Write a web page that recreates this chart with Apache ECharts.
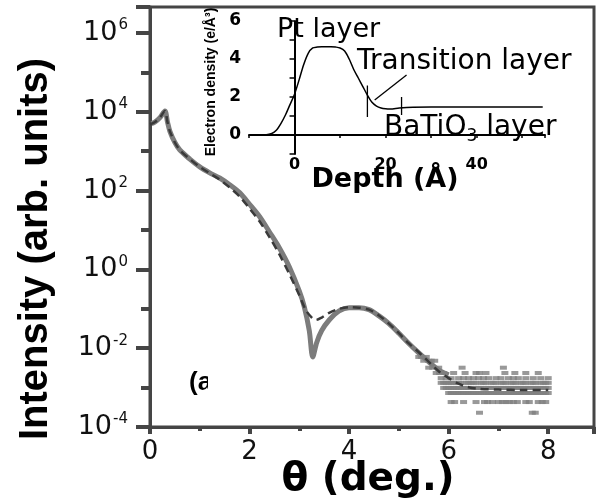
<!DOCTYPE html>
<html>
<head>
<meta charset="utf-8">
<script src="https://cdn.jsdelivr.net/npm/echarts@6/dist/echarts.min.js"></script>
<style>
html,body{margin:0;padding:0;background:#fff;}
#c{width:597px;height:504px;}
</style>
</head>
<body>
<div id="c"></div>
<script>
// ---- main plot: reflectivity ----
const theta = [0.03,0.1,0.2,0.3,0.35,0.4,0.5,0.6,0.8,1.0,1.2,1.4,1.6,1.8,2.0,2.2,2.4,2.6,2.8,3.0,3.1,3.2,3.27,3.35,3.45,3.6,3.8,4.0,4.2,4.4,4.6,4.8,5.0,5.2,5.4,5.6,5.8,6.0];
const measured = [5.0e3,5.5e3,7.1e3,1.05e4,5.6e3,3.2e3,1.66e3,1.07e3,630,400,282,209,141,89,45,22,8.9,3.5,1.15,0.28,0.112,0.028,0.006,0.014,0.028,0.052,0.089,0.107,0.107,0.095,0.066,0.042,0.024,0.0132,0.0076,0.0045,0.0028,0.0021];

const fitTheta = [0.0,0.1,0.2,0.3,0.35,0.4,0.5,0.6,0.8,1.0,1.2,1.4,1.6,1.8,2.0,2.2,2.4,2.6,2.8,3.0,3.13,3.25,3.33,3.45,3.6,3.8,4.0,4.2,4.4,4.6,4.8,5.0,5.2,5.4,5.6,5.8,6.0,6.2,6.4,6.6,7.0,7.5,8.0];
const fit = [4.8e3,5.5e3,7.2e3,1.05e4,5.6e3,3.2e3,1.66e3,1.07e3,630,400,275,190,120,71,35,16.6,6.6,2.4,0.76,0.22,0.093,0.060,0.052,0.060,0.079,0.100,0.110,0.107,0.095,0.068,0.042,0.024,0.0132,0.0079,0.0045,0.0026,0.00174,0.00126,0.00102,0.00093,0.00089,0.00087,0.00087];

// noisy tail of the measured data (count-quantised rows)
const tailLevels = [6.0e-3, 4.8e-3, 3.2e-3, 2.35e-3, 1.74e-3, 1.32e-3, 9.8e-4, 7.3e-4, 4.3e-4, 2.3e-4];
const tailThetas = [
  [5.4,5.45,5.55],
  [5.5,5.6,5.65,5.72],
  [5.6,5.68,5.8,6.27,7.1],
  [5.75,5.82,5.9,6.1,6.33,6.55,6.62,6.75,7.13,7.33,7.55,7.8],
  [5.85,5.95,6.05,6.2,6.3,6.4,6.5,6.6,6.7,6.8,6.95,7.05,7.2,7.3,7.4,7.55,7.7,7.85,8.0],
  [5.85,5.9,5.95,6.0,6.05,6.1,6.15,6.2,6.25,6.35,6.4,6.45,6.5,6.55,6.65,6.7,6.75,6.85,6.9,6.95,7.05,7.1,7.15,7.25,7.3,7.35,7.45,7.5,7.55,7.65,7.7,7.75,7.85,7.9,7.95,8.0],
  [5.9,5.95,6.0,6.05,6.1,6.15,6.2,6.25,6.3,6.35,6.4,6.45,6.5,6.55,6.6,6.65,6.7,6.75,6.8,6.85,6.9,6.95,7.0,7.05,7.1,7.15,7.2,7.25,7.3,7.35,7.4,7.45,7.5,7.55,7.6,7.65,7.7,7.75,7.8,7.85,7.9,7.95,8.0],
  [6.0,6.05,6.1,6.15,6.2,6.25,6.3,6.35,6.4,6.45,6.5,6.55,6.6,6.65,6.7,6.75,6.8,6.85,6.9,6.95,7.0,7.05,7.1,7.15,7.2,7.25,7.3,7.35,7.4,7.45,7.5,7.55,7.6,7.65,7.7,7.75,7.8,7.85,7.9,7.95,8.0],
  [6.05,6.12,6.3,6.55,6.72,6.78,6.88,7.0,7.08,7.15,7.22,7.3,7.38,7.55,7.62,7.8,7.88,7.95],
  [6.62,7.68,7.74]
];

const xTicks = [0,2,4,6,8];
const yExponents = [-4,-2,0,2,4,6];

// ---- inset: electron density profile ----
const depth = [-6.5,-5,-4,-3,-2,-1,0,1,2,3,4,5,6,7,8,9,10,11,12,13,14,15,16,17,18,19,20,21,23,26,30,40,54.5];
const density = [0,0.08,0.25,0.6,1.05,1.6,2.15,2.9,3.7,4.3,4.58,4.63,4.65,4.65,4.65,4.63,4.58,4.42,4.0,3.45,3.0,2.55,2.1,1.72,1.52,1.42,1.38,1.37,1.42,1.46,1.47,1.47,1.47];
const markerDepth = [16, 23.5];
const markerTop = [2.6, 2.0];
const markerBottom = [0.95, 1.05];
const pointerDepth = [17.6, 24.6];
const pointerDensity = [1.84, 3.16];
const insetXLabels = [0,20,40];
const insetYLabels = [0,2,4,6];

const tailPoints = [];
tailLevels.forEach((lv, i) => tailThetas[i].forEach(t => tailPoints.push([t, lv])));

const AX = '#454545';
const chart = echarts.init(document.getElementById('c'), null, {renderer:'canvas'});

const supFmt = v => {
  const e = Math.log10(v);
  const r = Math.round(e);
  if (Math.abs(e - r) > 0.01 || yExponents.indexOf(r) < 0) return '';
  return '{b|10}{s|' + r + '}';
};

const option = {
  backgroundColor:'#fff',
  animation:false,
  grid:[
    {left:150, top:7, width:446, height:420, show:true, borderColor:AX, borderWidth:3, backgroundColor:'transparent'},
    {left:249, top:21, width:296, height:133}
  ],
  xAxis:[
    {gridIndex:0, type:'value', min:0, max:8.92, interval:2, position:'bottom',
     axisLine:{show:true, lineStyle:{color:AX, width:3}},
     axisTick:{show:true, length:7, lineStyle:{color:AX, width:4}},
     splitLine:{show:false},
     axisLabel:{margin:12, fontSize:26, fontFamily:'DejaVu Sans', color:'#111',
       formatter:v => xTicks.indexOf(v) >= 0 ? String(v) : ''}},
    {gridIndex:0, type:'value', min:0, max:8.92, interval:1, position:'bottom',
     axisLine:{show:false}, axisTick:{show:true, length:4, lineStyle:{color:AX, width:4}},
     splitLine:{show:false}, axisLabel:{show:false}},
    {gridIndex:1, type:'value', min:-10, max:55, interval:10, position:'bottom',
     axisLine:{show:true, lineStyle:{color:'#000', width:2}},
     axisTick:{show:true, length:3, lineStyle:{color:'#000', width:1.5}},
     splitLine:{show:false},
     axisLabel:{margin:3, fontSize:16, fontWeight:'bold', fontFamily:'DejaVu Sans', color:'#000',
       formatter:v => insetXLabels.indexOf(v) >= 0 ? String(v) : ''}}
  ],
  yAxis:[
    {gridIndex:0, type:'log', logBase:10, min:1e-4, max:4.57e6, interval:2, position:'left',
     axisLine:{show:true, lineStyle:{color:AX, width:3}},
     axisTick:{show:true, length:14, lineStyle:{color:AX, width:4}},
     splitLine:{show:false},
     axisLabel:{margin:22, formatter:supFmt, color:'#111',
       rich:{b:{fontSize:27, fontFamily:'DejaVu Sans', color:'#111'},
             s:{fontSize:15, fontFamily:'DejaVu Sans', color:'#111', padding:[0,0,15,1]}}}},
    {gridIndex:0, type:'log', logBase:10, min:1e-4, max:4.57e6, interval:1, position:'left',
     axisLine:{show:false}, axisTick:{show:true, length:9, lineStyle:{color:AX, width:4}},
     splitLine:{show:false}, axisLabel:{show:false}},
    {gridIndex:1, type:'value', min:-1, max:6, interval:1, position:'left',
     axisLine:{show:true, lineStyle:{color:'#000', width:2}},
     axisTick:{show:true, length:5, lineStyle:{color:'#000', width:1.5}},
     splitLine:{show:false},
     axisLabel:{margin:8, fontSize:17, fontWeight:'bold', fontFamily:'DejaVu Sans', color:'#000',
       formatter:v => insetYLabels.indexOf(v) >= 0 ? String(v) : ''}}
  ],
  series:[
    {type:'line', xAxisIndex:0, yAxisIndex:0, data:theta.map((t,i)=>[t, measured[i]]),
     showSymbol:false, smooth:0.3, lineStyle:{color:'#7c7c7c', width:5}, z:2},
    {type:'scatter', xAxisIndex:0, yAxisIndex:0, data:tailPoints,
     symbol:'rect', symbolSize:[7,4], itemStyle:{color:'#808080'}, z:2},
    {type:'line', xAxisIndex:0, yAxisIndex:0, data:fitTheta.map((t,i)=>[t, fit[i]]),
     showSymbol:false, smooth:0.3, lineStyle:{color:'#3a3a3a', width:2.5, type:[8,5]}, z:3},
    {type:'line', xAxisIndex:2, yAxisIndex:2, data:depth.map((d,i)=>[d, density[i]]),
     showSymbol:false, smooth:0.3, lineStyle:{color:'#000', width:1.5}, z:3},
    {type:'line', xAxisIndex:2, yAxisIndex:2, data:[[markerDepth[0], markerTop[0]],[markerDepth[0], markerBottom[0]]],
     showSymbol:false, lineStyle:{color:'#000', width:1.3}, z:3},
    {type:'line', xAxisIndex:2, yAxisIndex:2, data:[[markerDepth[1], markerTop[1]],[markerDepth[1], markerBottom[1]]],
     showSymbol:false, lineStyle:{color:'#000', width:1.3}, z:3},
    {type:'line', xAxisIndex:2, yAxisIndex:2, data:pointerDepth.map((d,i)=>[d, pointerDensity[i]]),
     showSymbol:false, lineStyle:{color:'#000', width:1.3}, z:3}
  ],
  graphic:[
    {type:'text', x:36, y:249, rotation:Math.PI/2,
     style:{text:'Intensity (arb. units)', fontSize:40, fontWeight:'bold', fontFamily:'Liberation Sans', fill:'#000', align:'center', verticalAlign:'middle'}},
    {type:'text', x:368, y:480,
     style:{text:'θ (deg.)', fontSize:39, fontWeight:'bold', fontFamily:'DejaVu Sans', fill:'#000', align:'center', verticalAlign:'middle'}},
    {type:'text', x:211, y:82, rotation:Math.PI/2,
     style:{text:'Electron density (e/Å³)', fontSize:14, fontWeight:'bold', fontFamily:'Liberation Sans', fill:'#000', align:'center', verticalAlign:'middle'}},
    {type:'text', x:385, y:180,
     style:{text:'Depth (Å)', fontSize:27, fontWeight:'bold', fontFamily:'DejaVu Sans', fill:'#000', align:'center', verticalAlign:'middle'}},
    {type:'text', x:277, y:30,
     style:{text:'Pt layer', fontSize:27, fontFamily:'DejaVu Sans', fill:'#000', align:'left', verticalAlign:'middle'}},
    {type:'text', x:357, y:62,
     style:{text:'Transition layer', fontSize:28, fontFamily:'DejaVu Sans', fill:'#000', align:'left', verticalAlign:'middle'}},
    {type:'text', x:384, y:128,
     style:{text:'{n|BaTiO}{u|3}{n| layer}', align:'left', verticalAlign:'middle',
       rich:{n:{fontSize:28, fontFamily:'DejaVu Sans', fill:'#000', color:'#000'},
             u:{fontSize:17, fontFamily:'DejaVu Sans', fill:'#000', color:'#000', padding:[18,0,0,0]}}}},
    {type:'text', x:189, y:383,
     style:{text:'(a', fontSize:26, fontWeight:'bold', fontFamily:'Liberation Sans', fill:'#000', align:'left', verticalAlign:'middle'}},
    {type:'rect', shape:{x:208, y:368, width:20, height:30}, style:{fill:'#fff'}, z:10}
  ]
};
chart.setOption(option);
</script>
</body>
</html>
